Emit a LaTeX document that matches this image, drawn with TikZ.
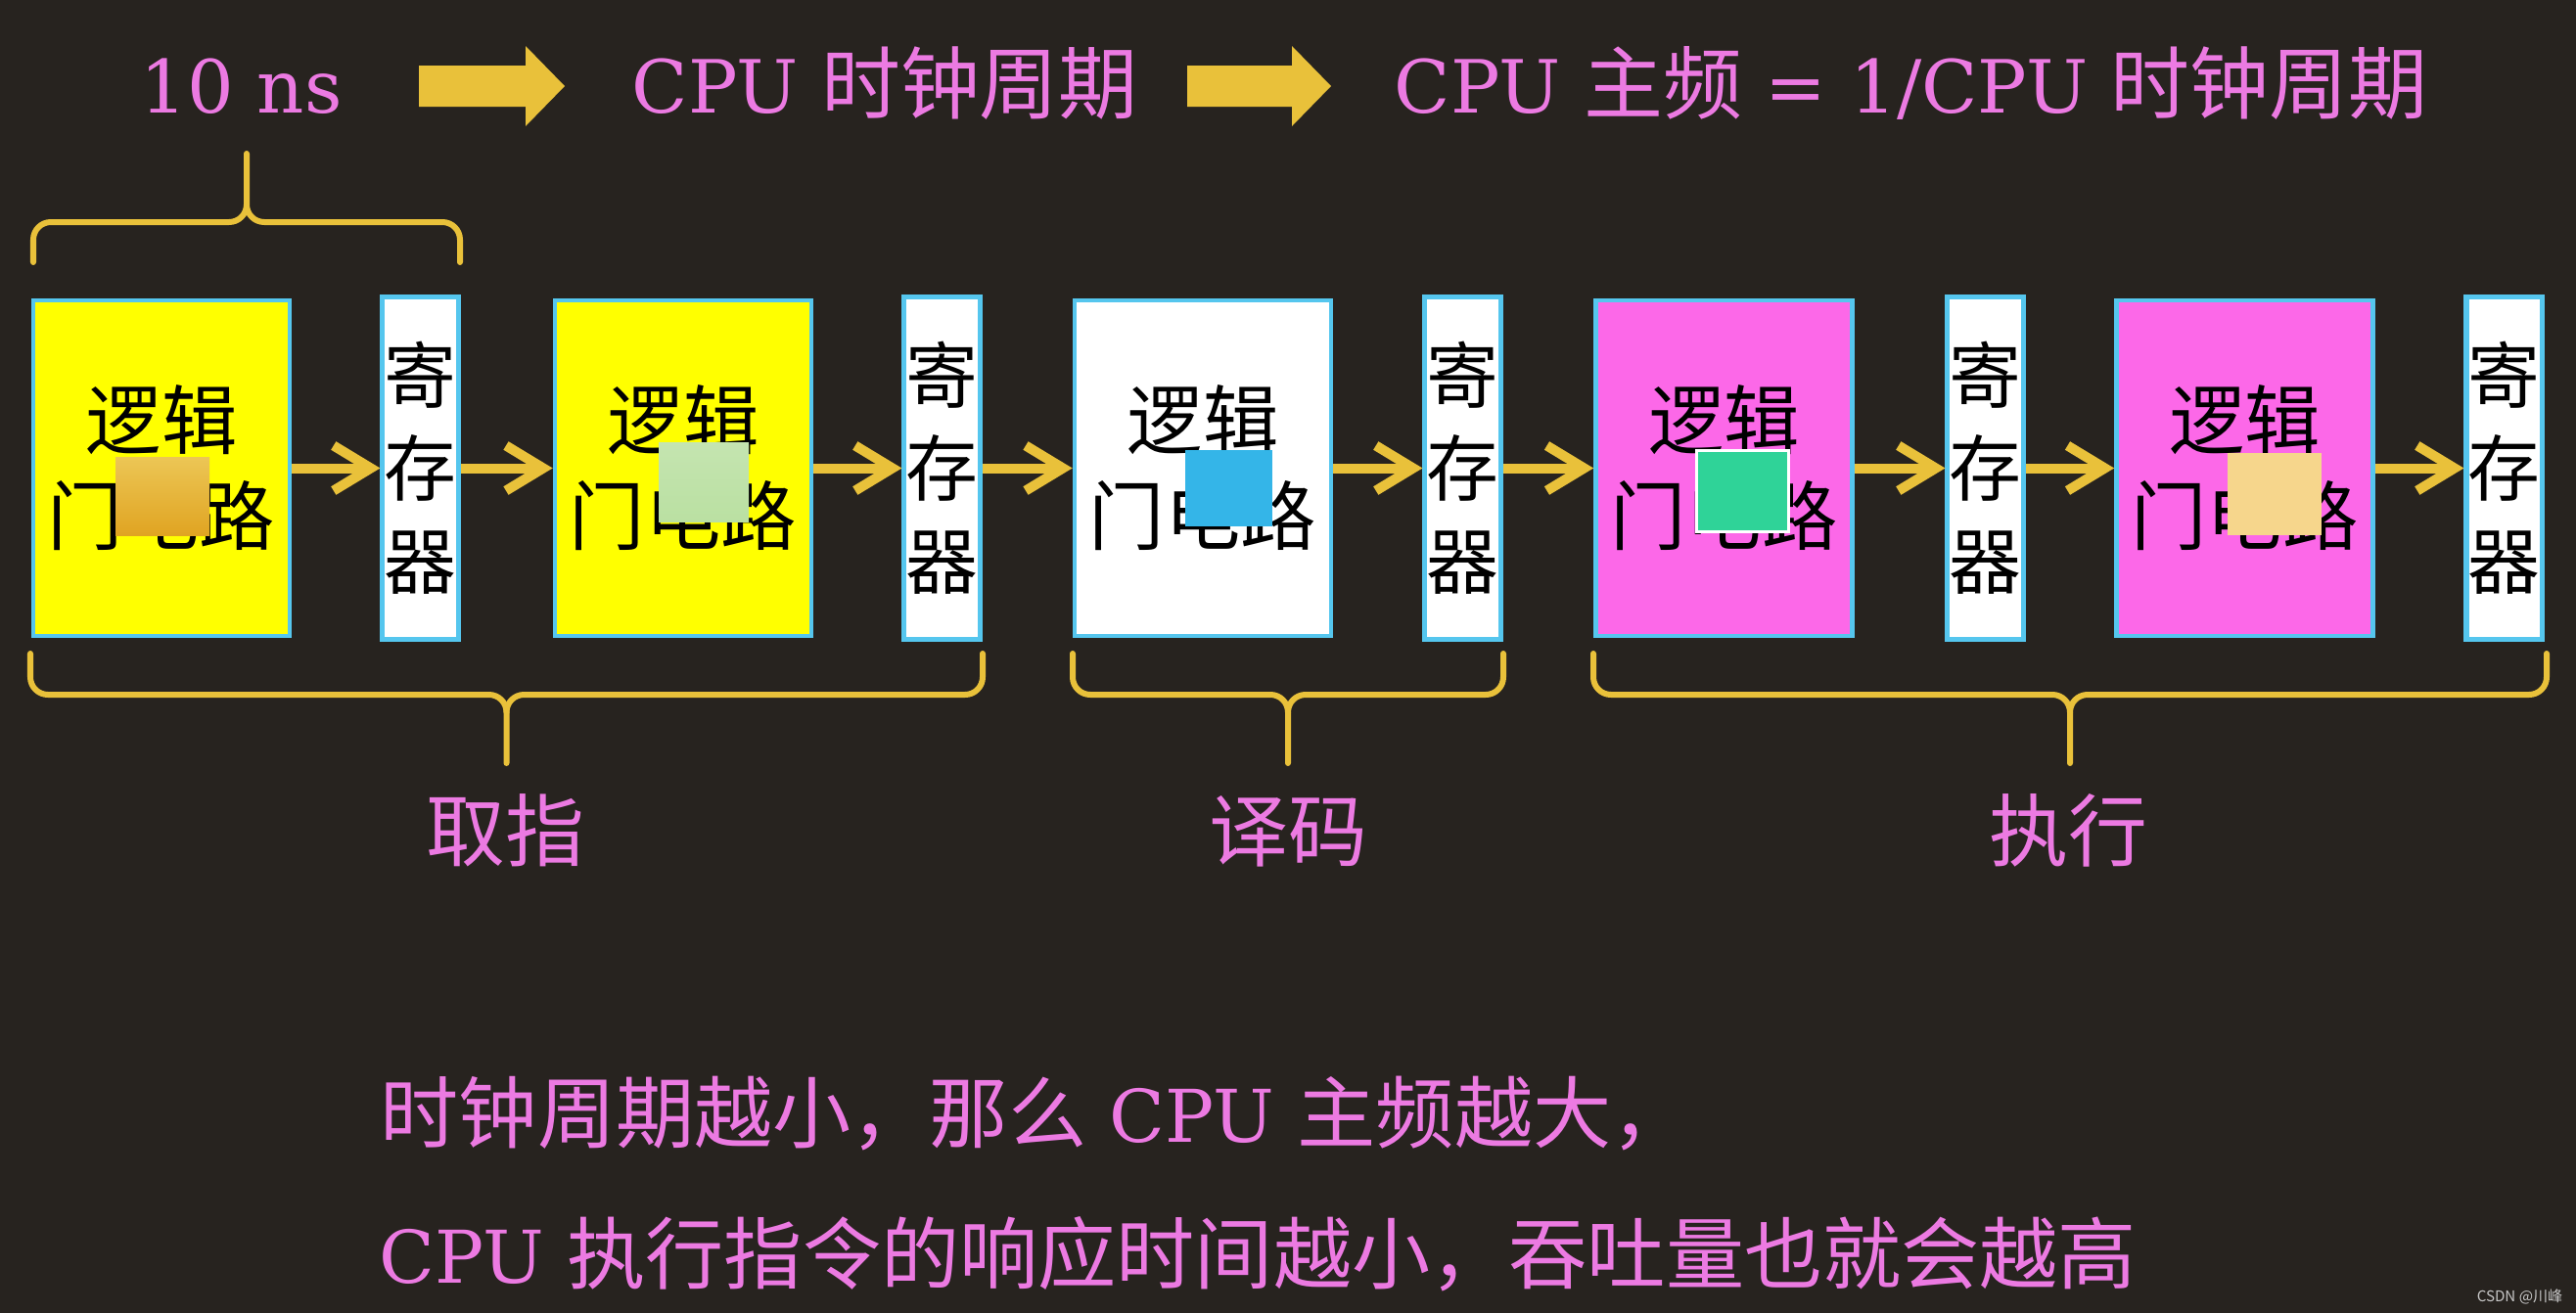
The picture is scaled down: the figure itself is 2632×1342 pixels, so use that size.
\documentclass[tikz,border=0pt]{standalone}
\usepackage{fontspec}
\setmainfont{DejaVu Serif}[Scale=0.927]
\newfontfamily\cjk{Noto Sans CJK SC}
\usetikzlibrary{arrows.meta}
\definecolor{bg}{RGB}{39,35,31}
\definecolor{gold}{RGB}{233,193,58}
\definecolor{pinktxt}{RGB}{236,122,226}
\definecolor{edgeblue}{RGB}{85,198,238}
\definecolor{magbox}{RGB}{252,104,232}
\definecolor{boxyellow}{RGB}{255,255,0}
\definecolor{patchAtop}{RGB}{236,198,85}
\definecolor{patchAbot}{RGB}{224,164,34}
\definecolor{patchB}{RGB}{186,224,162}
\definecolor{patchC}{RGB}{52,181,232}
\definecolor{patchD}{RGB}{47,211,152}
\definecolor{patchE}{RGB}{246,214,140}
\newcommand\bracebar[6]{% cx, half width, y of ends, y of bar, y of tip, direction
  \draw[brc] ({#1-#2},#3) -- ({#1-#2},{#4-(#6)*18})
    .. controls ({#1-#2},{#4-(#6)*8}) and ({#1-#2+8},#4) .. ({#1-#2+18},#4)
    -- ({#1-18},#4) .. controls ({#1-8},#4) and (#1,{#4+(#6)*8}) .. (#1,{#4+(#6)*18})
    -- (#1,#5);
  \draw[brc] (#1,{#4+(#6)*18}) .. controls (#1,{#4+(#6)*8}) and ({#1+8},#4) .. ({#1+18},#4)
    -- ({#1+#2-18},#4) .. controls ({#1+#2-8},#4) and ({#1+#2},{#4-(#6)*8}) .. ({#1+#2},{#4-(#6)*18})
    -- ({#1+#2},#3);
}
\begin{document}
\begin{tikzpicture}[x=0.01cm,y=-0.01cm,
  logic/.style={draw=edgeblue, line width=0.045cm, minimum width=2.62cm, minimum height=3.43cm,
    inner sep=0pt, align=center, text=black, font={\cjk\fontsize{22pt}{27.9pt}\selectfont}},
  reg/.style={draw=edgeblue, line width=0.05cm, fill=white, minimum width=0.77cm, minimum height=3.49cm,
    inner sep=0pt, align=center, text=black, font={\cjk\fontsize{21pt}{27pt}\selectfont}},
  flow/.style={draw=gold, line width=0.1cm, -{Straight Barb[length=0.38cm,width=0.46cm]}},
  brc/.style={draw=gold, line width=0.06cm, line cap=round, line join=round},
  ptxt/.style={text=pinktxt, inner sep=0pt, font={\fontsize{23pt}{28pt}\selectfont}},
  btxt/.style={text=pinktxt, inner sep=0pt, font={\fontsize{22.8pt}{28pt}\selectfont}},
  bigarrow/.style={fill=gold},
  patch/.style={draw=none}
]
\path[use as bounding box, fill=bg] (0,0) rectangle (2632,1342);

% top line
\node[ptxt, anchor=base west] (ns) at (143,115) {10 ns};
\node[ptxt, anchor=base west] (cyc) at (645,115) {CPU {\cjk 时钟周期}};
\node[ptxt, anchor=base west] (freq) at (1424,115) {CPU {\cjk 主频} = 1/CPU {\cjk 时钟周期}};
\fill[bigarrow] (428,67) -- (537,67) -- (537,47) -- (577,88) -- (537,129) -- (537,109) -- (428,109) -- cycle;
\fill[bigarrow] (1213,67) -- (1320,67) -- (1320,47) -- (1360,88) -- (1320,129) -- (1320,109) -- (1213,109) -- cycle;

% top brace
\bracebar{252}{218}{268}{227}{157}{-1}

% pipeline
\node[logic, fill=boxyellow] (L1) at (165,478.5) {逻辑\\门电路};
\node[reg] (R1) at (429.5,478.5) {寄\\存\\器};
\node[logic, fill=boxyellow] (L2) at (698,478.5) {逻辑\\门电路};
\node[reg] (R2) at (962.5,478.5) {寄\\存\\器};
\node[logic, fill=white] (L3) at (1229,478.5) {逻辑\\门电路};
\node[reg] (R3) at (1494.5,478.5) {寄\\存\\器};
\node[logic, fill=magbox] (L4) at (1761.5,478.5) {逻辑\\门电路};
\node[reg] (R4) at (2028.5,478.5) {寄\\存\\器};
\node[logic, fill=magbox] (L5) at (2293.5,478.5) {逻辑\\门电路};
\node[reg] (R5) at (2558.5,478.5) {寄\\存\\器};

\draw[flow] (L1.east) -- (R1.west);
\draw[flow] (R1.east) -- (L2.west);
\draw[flow] (L2.east) -- (R2.west);
\draw[flow] (R2.east) -- (L3.west);
\draw[flow] (L3.east) -- (R3.west);
\draw[flow] (R3.east) -- (L4.west);
\draw[flow] (L4.east) -- (R4.west);
\draw[flow] (R4.east) -- (L5.west);
\draw[flow] (L5.east) -- (R5.west);

% patches
\shade[patch, top color=patchAtop, bottom color=patchAbot] (118,467) rectangle (214,547);
\shade[patch, top color=patchB!85!white, bottom color=patchB] (673,452) rectangle (765,533);
\fill[patch, patchC] (1211,460) rectangle (1300,538);
\filldraw[fill=patchD, draw=white, line width=0.03cm] (1733,460) rectangle (1827,543);
\fill[patch, patchE] (2276,463) rectangle (2372,547);

% lower braces
\bracebar{517.5}{486.5}{668}{710}{780}{1}
\bracebar{1316}{220}{668}{710}{780}{1}
\bracebar{2115}{487}{668}{710}{780}{1}

\node[ptxt, anchor=base] (qz) at (516,879) {\cjk 取指};
\node[ptxt, anchor=base] (ym) at (1316,879) {\cjk 译码};
\node[ptxt, anchor=base] (zx) at (2113,879) {\cjk 执行};

% bottom text
\node[btxt, anchor=base west] (s1) at (388,1167) {{\cjk 时钟周期越小，那么} CPU {\cjk 主频越大，}};
\node[btxt, anchor=base west] (s2) at (387,1311) {CPU {\cjk 执行指令的响应时间越小，吞吐量也就会越高}};

\node[anchor=base east, inner sep=0pt, text=white!78!black, font={\cjk\fontsize{4.3pt}{5pt}\selectfont}] (wm) at (2619,1330) {CSDN @川峰};
\end{tikzpicture}
\end{document}
